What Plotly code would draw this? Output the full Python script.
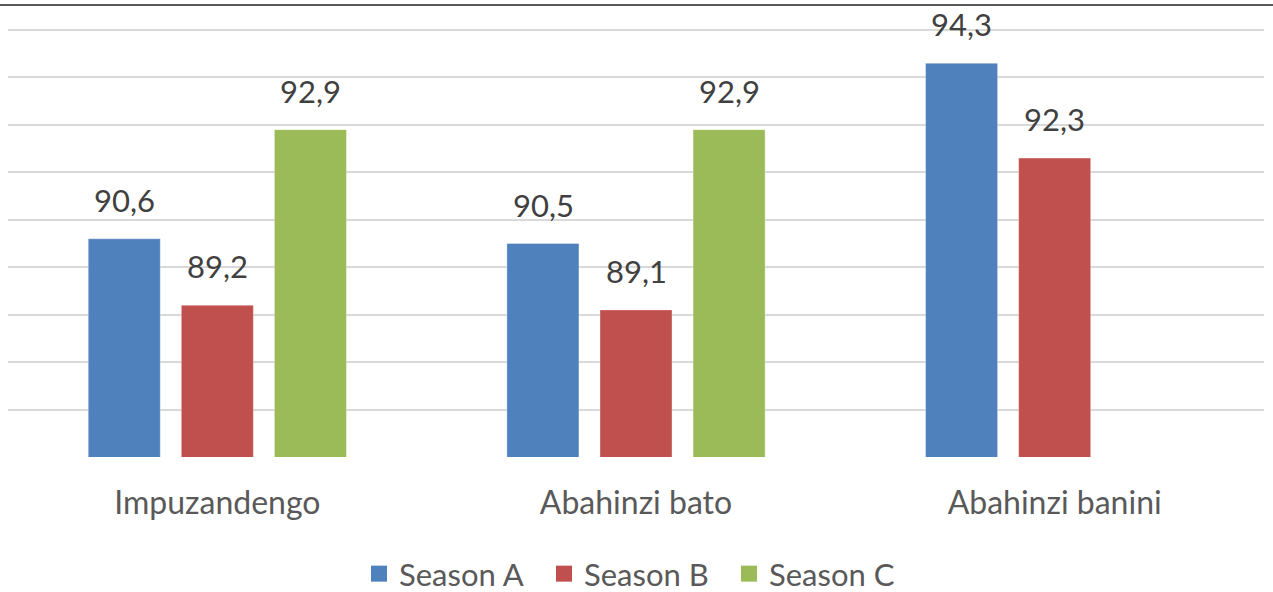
import plotly.graph_objects as go

categories = ["Impuzandengo", "Abahinzi bato", "Abahinzi banini"]
series_names = ["Season A", "Season B", "Season C"]
season_a = [90.6, 90.5, 94.3]
season_b = [89.2, 89.1, 92.3]
season_c = [92.9, 92.9, None]
colors = ["#4F81BD", "#C0504D", "#9BBB59"]

all_series = [season_a, season_b, season_c]
FONT = "Lato"
FS = 31

fig = go.Figure()
for name, vals, col in zip(series_names, all_series, colors):
    fig.add_trace(go.Bar(
        x=categories, y=vals, name=name, showlegend=False,
        marker=dict(color=col, line=dict(color="rgba(255,255,255,0.35)", width=1)),
    ))
# legend entries (square markers, no data drawn)
for name, col in zip(series_names, colors):
    fig.add_trace(go.Scatter(
        x=[categories[0]], y=[None], mode="markers", name=name,
        marker=dict(symbol="square", size=18, color=col), hoverinfo="skip",
    ))

# value labels above bars
slot = 93
for i, vals in enumerate(all_series):
    for c, v in zip(categories, vals):
        if v is None:
            continue
        fig.add_annotation(
            x=c, y=v, xref="x", yref="y", text=f"{v:.1f}".replace(".", ","),
            showarrow=False, xshift=(i - 1) * slot, yanchor="bottom", yshift=18,
            font=dict(family=FONT, size=FS, color="#404040"),
        )

# plot area: 28..457 px; 1 unit = 427/9 px so that 95 sits at 30 px
unit_px = 427 / 9
ytop = 95 + 2 / unit_px

# top border line
fig.add_shape(type="line", xref="paper", yref="paper",
              x0=-8/1256, x1=1272/1256, y0=1 + 23/429, y1=1 + 23/429,
              line=dict(color="#595959", width=2))

fig.update_layout(
    width=1273, height=592,
    margin=dict(l=8, r=9, t=28, b=135, autoexpand=False),
    paper_bgcolor="white", plot_bgcolor="white",
    barmode="group", bargap=0.333, bargroupgap=0.226,
    showlegend=True,
    legend=dict(orientation="h", x=0.5, xanchor="center", xref="container",
                y=18/592, yanchor="middle", yref="container",
                font=dict(family=FONT, size=FS, color="#595959"),
                entrywidth=140, entrywidthmode="pixels",
                itemsizing="trace", traceorder="normal"),
    font=dict(family=FONT, size=FS, color="#595959"),
)
fig.update_yaxes(range=[86, ytop], dtick=1, tick0=86, showticklabels=False,
                 showgrid=True, gridcolor="#D9D9D9", gridwidth=2, zeroline=False,
                 showline=False, automargin=False)
fig.update_xaxes(showgrid=False, showline=False, ticks="", automargin=False,
                 tickfont=dict(family=FONT, size=32, color="#595959"),
                 ticklabelstandoff=24)

fig.write_html("out.html", config={"displayModeBar": False},
               post_script="document.body.style.margin='0';")
